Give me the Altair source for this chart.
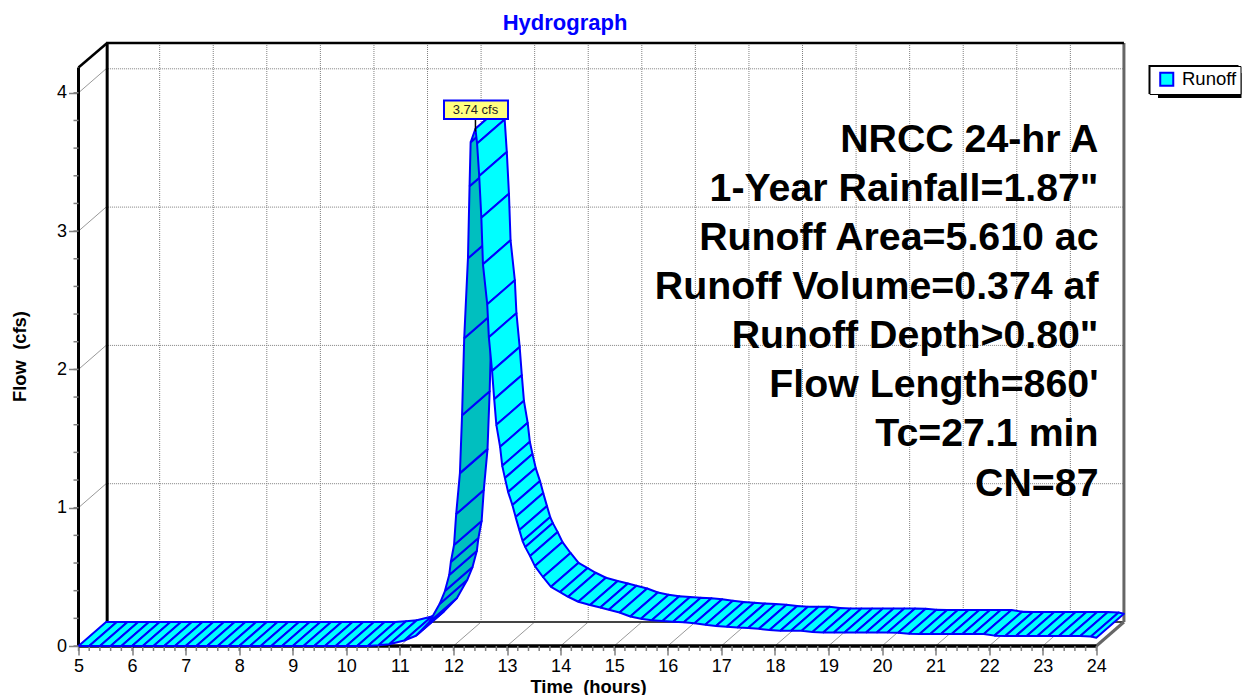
import altair as alt
import pandas as pd

FONT = "Liberation Sans"
BLUE = "#0000FF"

HOURS = [5.0, 5.2, 5.4, 5.6, 5.8, 6.0, 6.2, 6.4, 6.6, 6.8, 7.0, 7.2, 7.4, 7.6, 7.8,
         8.0, 8.2, 8.4, 8.6, 8.8, 9.0, 9.2, 9.4, 9.6, 9.8, 10.0, 10.2, 10.4, 10.6, 10.8,
         11.08, 11.30, 11.55, 11.74, 11.84, 11.92, 11.95, 12.01, 12.05, 12.12, 12.16,
         12.20, 12.27, 12.30, 12.32, 12.41, 12.44, 12.48, 12.52, 12.55, 12.63, 12.66,
         12.72, 12.76, 12.80, 12.87, 12.91, 12.96, 13.02, 13.10, 13.16, 13.23, 13.29,
         13.34, 13.43, 13.52, 13.67, 13.82, 13.99, 14.14, 14.33, 14.55, 14.74, 14.9,
         15.1, 15.3, 15.5, 15.7, 15.9, 16.1, 16.3, 16.5, 16.7, 16.9, 17.1, 17.3, 17.5,
         17.7, 17.9, 18.1, 18.3, 18.5, 18.7, 18.9, 19.1, 19.3, 19.5, 19.7, 19.9, 20.1,
         20.3, 20.5, 20.7, 20.9, 21.1, 21.3, 21.5, 21.7, 21.9, 22.1, 22.3, 22.5, 22.7,
         22.9, 23.1, 23.3, 23.5, 23.7, 23.9, 24.0]
CFS = [0, 0, 0, 0, 0, 0, 0, 0, 0, 0, 0, 0, 0, 0, 0,
       0, 0, 0, 0, 0, 0, 0, 0, 0, 0, 0, 0, 0, 0.005, 0.012,
       0.04, 0.074, 0.173, 0.303, 0.397, 0.513, 0.607, 0.73, 0.954, 1.25, 1.669,
       2.225, 2.803, 3.324, 3.642, 3.74, 3.634, 3.398, 3.097, 2.76, 2.471, 2.233,
       1.989, 1.785, 1.599, 1.44, 1.303, 1.214, 1.113, 1.019, 0.932, 0.838, 0.759,
       0.715, 0.65, 0.578, 0.499, 0.428, 0.39, 0.356, 0.32, 0.296, 0.278, 0.262,
       0.242, 0.213, 0.197, 0.186, 0.181, 0.176, 0.171, 0.164, 0.153, 0.145, 0.139,
       0.134, 0.13, 0.124, 0.116, 0.111, 0.111, 0.11, 0.101, 0.098, 0.098, 0.098,
       0.097, 0.097, 0.097, 0.097, 0.096, 0.088, 0.087, 0.087, 0.087, 0.087, 0.087,
       0.087, 0.087, 0.075, 0.073, 0.073, 0.073, 0.073, 0.073, 0.073, 0.073, 0.073,
       0.068, 0.06]
SHADED_FROM = 11.55
PEAK_HOUR = 12.41
PEAK_LABEL = "3.74 cfs"

X_TICKS = list(range(5, 25))
Y_TICKS = [0, 1, 2, 3, 4]
X_MINOR = [5 + i * 0.2 for i in range(96)]
Y_MINOR = [i * 0.2 for i in range(21)]
Y_TOP_FRONT = 4.183

INFO_LINES = ["NRCC 24-hr A", '1-Year Rainfall=1.87"', "Runoff Area=5.610 ac",
              "Runoff Volume=0.374 af", 'Runoff Depth>0.80"', "Flow Length=860'",
              "Tc=27.1 min", "CN=87"]
INFO_BASE = [109, 158, 207, 256, 305, 354, 403, 453]

W, H = 1046, 603
X_MAX = 5 + W / 53.57
Y_MAX = H / 138.3
DX = 27.6 / 53.57   # depth offset in hours
DY = 24 / 138.3     # depth offset in cfs
BACK_R = 24 + DX

xs = alt.Scale(domain=[5, X_MAX], nice=False, zero=False)
ys = alt.Scale(domain=[0, Y_MAX], nice=False, zero=False)

XAX = alt.Axis(
    values=X_TICKS, format="d", grid=False, domain=False, tickSize=9, tickColor="#808080",
    tickWidth=1.5, labelFont=FONT, labelFontSize=18, labelColor="#000", labelPadding=2,
    labelFlush=False, labelOverlap=False,
    title="Time\u00a0\u00a0(hours)", titleFont=FONT, titleFontSize=18.4, titleFontWeight="bold",
    titleColor="#000", titleX=509.5, titleY=46, titleBaseline="alphabetic")
YAX = alt.Axis(
    values=Y_TICKS, format="d", grid=False, domain=False, tickSize=10, tickColor="#808080",
    tickWidth=1.5, labelFont=FONT, labelFontSize=18, labelColor="#000", labelPadding=2,
    labelOverlap=False,
    title="Flow\u00a0\u00a0(cfs)", titleFont=FONT, titleFontSize=18.4, titleFontWeight="bold",
    titleColor="#000", titleX=-53, titleY=313, titleAngle=270, titleBaseline="alphabetic")


def segs(rows, color, width=1.0, dash=None):
    df = pd.DataFrame(rows, columns=["x", "y", "x2", "y2"])
    kw = {"color": color, "strokeWidth": width}
    if dash:
        kw["strokeDash"] = dash
    return alt.Chart(df).mark_rule(**kw).encode(
        x=alt.X("x:Q", scale=xs, axis=XAX),
        y=alt.Y("y:Q", scale=ys, axis=YAX),
        x2="x2:Q", y2="y2:Q")


layers = []
# back wall
layers.append(segs([[h + DX, DY, h + DX, Y_MAX] for h in X_TICKS[1:-1]], "#808080", 1, [1, 1]))
layers.append(segs([[5 + DX, v + DY, BACK_R, v + DY] for v in Y_TICKS[1:]], "#808080", 1, [1, 1]))
# left wall and floor
layers.append(segs([[5, v, 5 + DX, v + DY] for v in Y_TICKS[1:]], "#999999", 1))
layers.append(segs([[h, 0, h + DX, DY] for h in X_TICKS[1:-1]], "#999999", 1))
# frame
layers.append(segs([[5 + DX, DY, BACK_R, DY]], "#444444", 2))
layers.append(segs([[BACK_R, DY, BACK_R, Y_MAX]], "#666666", 3))
layers.append(segs([[24, 0, BACK_R, DY]], "#666666", 3))
layers.append(segs([[5 + DX + 0.02, DY, 5 + DX + 0.02, Y_MAX]], "#000000", 3))
layers.append(segs([[5, Y_TOP_FRONT, 5 + DX + 0.02, Y_MAX], [5 + DX, Y_MAX, BACK_R, Y_MAX]], "#000000", 2.5))
layers.append(segs([[5, 0, 5, Y_TOP_FRONT]], "#000000", 3))
layers.append(segs([[5, 0, 24, 0]], "#000000", 3.5))

# minor ticks
layers.append(alt.Chart(pd.DataFrame({"x": X_MINOR})).mark_rule(color="#808080", strokeWidth=1.5).encode(
    x=alt.X("x:Q", scale=xs, axis=XAX), y=alt.value(H), y2=alt.value(H + 5)))
layers.append(alt.Chart(pd.DataFrame({"y": Y_MINOR})).mark_rule(color="#808080", strokeWidth=1.5).encode(
    y=alt.Y("y:Q", scale=ys, axis=YAX), x=alt.value(-5), x2=alt.value(0)))

# ribbon: one quad between each pair of consecutive points
rows = []
for i in range(len(HOURS) - 1):
    h0, f0, h1, f1 = HOURS[i], CFS[i], HOURS[i + 1], CFS[i + 1]
    face = "shaded" if (f1 > f0 and SHADED_FROM <= h0 < PEAK_HOUR) else "Runoff"
    for k, (hx, fy) in enumerate([(h0, f0), (h0 + DX, f0 + DY), (h1 + DX, f1 + DY), (h1, f1), (h0, f0)]):
        rows.append({"seg": i, "k": k, "x": hx, "y": fy, "face": face})
ribbon = alt.Chart(pd.DataFrame(rows)).mark_line(
    stroke=BLUE, strokeWidth=2, strokeJoin="round", interpolate="linear", clip=False
).encode(
    x=alt.X("x:Q", scale=xs, axis=XAX),
    y=alt.Y("y:Q", scale=ys, axis=YAX),
    detail="seg:N",
    order="k:Q",
    fill=alt.Fill("face:N", scale=alt.Scale(domain=["Runoff", "shaded"], range=["#00FFFF", "#00BFBF"]),
                  legend=alt.Legend(values=["Runoff"], title=None, orient="none", legendX=1071, legendY=23,
                                    symbolType="square", symbolSize=170, symbolStrokeColor=BLUE,
                                    symbolStrokeWidth=2, labelFont=FONT, labelFontSize=18.5, labelColor="#000",
                                    fillColor="#FFFFFF", strokeColor="#000000", padding=4,
                                    labelOffset=6, symbolOffset=4)))
layers.append(ribbon)

# legend border and shadow, underneath the legend box
layers.append(alt.Chart(pd.DataFrame({"a": [0]})).mark_rect(color="#000").encode(
    x=alt.value(1079.5), x2=alt.value(1163), y=alt.value(30), y2=alt.value(55)))
layers.append(alt.Chart(pd.DataFrame({"a": [0]})).mark_rect(color="#000").encode(
    x=alt.value(1070), x2=alt.value(1160), y=alt.value(22), y2=alt.value(51)))

# information text
for line, base_y in zip(INFO_LINES, INFO_BASE):
    layers.append(alt.Chart(pd.DataFrame({"t": [line]})).mark_text(
        font=FONT, fontSize=39.3, fontWeight="bold", align="right", baseline="alphabetic", color="#000"
    ).encode(x=alt.value(1020), y=alt.value(base_y), text="t:N"))

# peak call-out
layers.append(segs([[PEAK_HOUR, 3.72, PEAK_HOUR, 3.81]], "#000000", 1.5))
layers.append(alt.Chart(pd.DataFrame({"a": [0]})).mark_rect(fill="#FFFF80", stroke=BLUE, strokeWidth=2).encode(
    x=alt.value(365.5), x2=alt.value(429.5), y=alt.value(57.5), y2=alt.value(76)))
layers.append(alt.Chart(pd.DataFrame({"t": [PEAK_LABEL], "x": [PEAK_HOUR]})).mark_text(
    font=FONT, fontSize=13, align="center", baseline="middle", color="#222"
).encode(x=alt.X("x:Q", scale=xs, axis=XAX), y=alt.value(66.5), text="t:N"))

chart = alt.layer(*layers).properties(
    width=W, height=H,
    padding={"left": 70.5, "top": 35, "right": 117.5, "bottom": 49},
    autosize=alt.AutoSizeParams(type="none"),
    title=alt.TitleParams("Hydrograph", font=FONT, fontSize=22, fontWeight="bold", color=BLUE,
                          anchor="middle", dx=-36.5, offset=-10, baseline="alphabetic"),
).configure_view(stroke=None)

chart.save("out.html", embed_options={"renderer": "svg", "actions": False})
